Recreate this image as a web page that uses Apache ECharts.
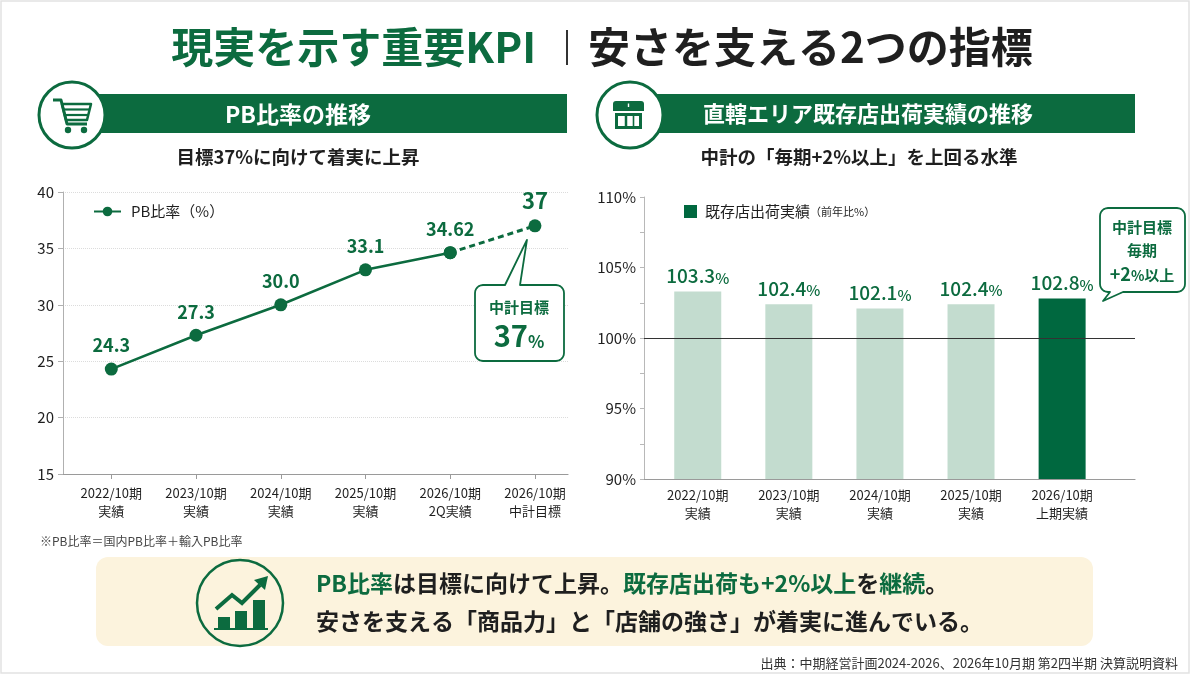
<!DOCTYPE html>
<html lang="ja">
<head>
<meta charset="utf-8">
<title>現実を示す重要KPI｜安さを支える2つの指標</title>
<script src="https://cdn.jsdelivr.net/npm/echarts@6/dist/echarts.min.js"></script>
<style>
  html, body { margin: 0; padding: 0; background: #fff; }
  #main { width: 1200px; height: 675px; }
</style>
</head>
<body>
<div id="main"></div>
<script>
// PB比率の推移
const pbCategories = ['2022/10期\n実績', '2023/10期\n実績', '2024/10期\n実績', '2025/10期\n実績', '2026/10期\n2Q実績', '2026/10期\n中計目標']
const pbValues = [24.3, 27.3, 30.0, 33.1, 34.62, 37]
const pbLabels = ['24.3', '27.3', '30.0', '33.1', '34.62', '37']
const pbTicks = [15, 20, 25, 30, 35, 40]
const pbActualCount = 5

// 直轄エリア既存店出荷実績（前年比%）
const shopCategories = ['2022/10期\n実績', '2023/10期\n実績', '2024/10期\n実績', '2025/10期\n実績', '2026/10期\n上期実績']
const shopValues = [103.3, 102.4, 102.1, 102.4, 102.8]
const shopTicks = [90, 95, 100, 105, 110]
const shopBase = 100

const GREEN = '#0c6b3f'
const BAR_DARK = '#00683f'
const BAR_LIGHT = '#c3dccf'
const INK = '#1f1f1f'
const CREAM = '#fcf3dd'
const FONT = '"Noto Sans CJK JP", "Noto Sans", sans-serif'

let chart = echarts.init(document.getElementById('main'))

let pbIdx = pbCategories.map((c, i) => i)
let shopIdx = shopCategories.map((c, i) => i)

let option = {
    animation: false,
    textStyle: { fontFamily: FONT },
    grid: [
        { left: 63, top: 192, width: 505, height: 282 },
        { left: 644, top: 197, width: 491, height: 282 }
    ],
    legend: [
        {
            data: ['PB比率（%）'],
            left: 88, top: 199,
            itemWidth: 27, itemHeight: 12,
            textStyle: { fontSize: 15, color: INK, fontFamily: FONT, padding: [0, 0, 0, 5] }
        },
        {
            data: [{ name: '既存店出荷実績', icon: 'rect', itemStyle: { color: BAR_DARK } }],
            left: 679, top: 199,
            itemWidth: 13, itemHeight: 13,
            formatter: name => '{a|' + name + '}{b|（前年比%）}',
            textStyle: {
                fontFamily: FONT, padding: [0, 0, 0, 3],
                rich: {
                    a: { fontSize: 15, color: INK, fontFamily: FONT },
                    b: { fontSize: 11, color: INK, fontFamily: FONT }
                }
            }
        }
    ],
    xAxis: [
        {
            type: 'value', gridIndex: 0,
            min: -0.57, max: 5.39,
            splitLine: { show: false },
            axisLine: { show: true, onZero: false, lineStyle: { color: '#9a9a9a', width: 1.2 } },
            axisTick: { show: true, customValues: pbIdx, length: 5, lineStyle: { color: '#9a9a9a' } },
            axisLabel: {
                customValues: pbIdx,
                formatter: v => pbCategories[Math.round(v)],
                fontSize: 13, lineHeight: 18, color: INK, margin: 10, fontFamily: FONT
            }
        },
        {
            type: 'value', gridIndex: 1,
            min: -0.59, max: 4.8,
            splitLine: { show: false },
            axisLine: { show: true, onZero: false, lineStyle: { color: '#9a9a9a', width: 1.2 } },
            axisTick: { show: false },
            axisLabel: {
                customValues: shopIdx,
                formatter: v => shopCategories[Math.round(v)],
                fontSize: 13, lineHeight: 18, color: INK, margin: 7, fontFamily: FONT
            }
        }
    ],
    yAxis: [
        {
            type: 'value', gridIndex: 0,
            min: pbTicks[0], max: pbTicks[pbTicks.length - 1], interval: 5,
            axisLine: { show: true, onZero: false, lineStyle: { color: '#b0b0b0' } },
            axisTick: { show: true, length: 5, lineStyle: { color: '#b0b0b0' } },
            axisLabel: { fontSize: 15, color: INK, margin: 9, fontFamily: FONT },
            splitLine: { show: true, lineStyle: { color: '#dcdcdc', type: 'dotted' } }
        },
        {
            type: 'value', gridIndex: 1,
            min: shopTicks[0], max: shopTicks[shopTicks.length - 1], interval: 5,
            axisLine: { show: true, onZero: false, lineStyle: { color: '#b8b8b8' } },
            axisTick: { show: true, length: 4, lineStyle: { color: '#b8b8b8' } },
            minorTick: { show: true, splitNumber: 2, length: 4, lineStyle: { color: '#b8b8b8' } },
            axisLabel: { formatter: '{value}%', fontSize: 15, color: INK, margin: 8, fontFamily: FONT },
            splitLine: { show: false }
        }
    ],
    series: [
        {
            name: 'PB比率（%）',
            type: 'line',
            xAxisIndex: 0, yAxisIndex: 0,
            z: 3,
            data: pbValues.slice(0, pbActualCount).map((v, i) => [i, v]),
            symbol: 'circle', symbolSize: 13,
            itemStyle: { color: GREEN },
            lineStyle: { color: GREEN, width: 2.6 },
            label: {
                show: true, position: 'top', distance: 8,
                formatter: p => pbLabels[p.dataIndex],
                fontSize: 18, fontWeight: 'bold', color: GREEN, fontFamily: FONT
            }
        },
        {
            name: 'PB比率 目標',
            type: 'line',
            xAxisIndex: 0, yAxisIndex: 0,
            z: 2,
            data: pbValues.slice(pbActualCount - 1).map((v, i) => ({
                value: [pbActualCount - 1 + i, v],
                label: { show: i > 0 }
            })),
            symbol: 'circle', symbolSize: 13,
            itemStyle: { color: GREEN },
            lineStyle: { color: GREEN, width: 3, type: [6, 4] },
            label: {
                position: 'top', distance: 8,
                formatter: p => pbLabels[pbActualCount - 1 + p.dataIndex],
                fontSize: 22, fontWeight: 'bold', color: GREEN, fontFamily: FONT
            }
        },
        {
            name: '既存店出荷実績',
            type: 'bar',
            xAxisIndex: 1, yAxisIndex: 1,
            barWidth: 47,
            itemStyle: { color: BAR_DARK },
            data: shopValues.map((v, i) => ({
                value: [i, v],
                itemStyle: { color: i === shopValues.length - 1 ? BAR_DARK : BAR_LIGHT }
            })),
            label: {
                show: true, position: 'top', distance: 6,
                formatter: p => '{n|' + p.value[1].toFixed(1) + '}{p|%}',
                rich: {
                    n: { fontSize: 19, fontWeight: 500, color: GREEN, fontFamily: FONT, lineHeight: 20, verticalAlign: 'bottom' },
                    p: { fontSize: 15, fontWeight: 500, color: GREEN, fontFamily: FONT, lineHeight: 17, verticalAlign: 'bottom' }
                }
            },
            markLine: {
                silent: true,
                symbol: 'none',
                label: { show: false },
                lineStyle: { color: '#333', width: 1.2, type: 'solid' },
                data: [{ yAxis: shopBase }]
            }
        }
    ]
}
chart.setOption(option)

// speech bubble outline as polygon points (rounded corners, pointer on top or bottom edge)
function bubble(x, y, w, h, r, edge, a, b, tip) {
    let pts = []
    function arc(cx, cy, from) {
        for (let k = 0; k <= 6; k++) {
            let t = (from + k * 15) * Math.PI / 180
            pts.push([cx + r * Math.cos(t), cy + r * Math.sin(t)])
        }
    }
    let R = x + w, B = y + h
    arc(x + r, y + r, 180)
    if (edge === 'top') { pts.push([a, y], tip, [b, y]) }
    arc(R - r, y + r, 270)
    arc(R - r, B - r, 0)
    if (edge === 'bottom') { pts.push([b, B], tip, [a, B]) }
    arc(x + r, B - r, 90)
    return pts
}

function txt(x, y, text, size, color, align, weight) {
    return {
        type: 'text', x: x, y: y, silent: true,
        style: {
            text: text, fontSize: size, fill: color, fontFamily: FONT,
            fontWeight: weight || 'bold', align: align || 'center', verticalAlign: 'middle'
        }
    }
}

let target = chart.convertToPixel({ gridIndex: 0 }, [pbValues.length - 1, pbValues[pbValues.length - 1]])

let g = []
// slide frame
g.push({ type: 'rect', shape: { x: 1, y: 1, width: 1188, height: 672 }, style: { fill: 'none', stroke: '#e2e2e2', lineWidth: 1.5 }, silent: true })

// title
g.push(txt(536, 47, '現実を示す重要KPI', 42, GREEN, 'right'))
g.push({ type: 'line', shape: { x1: 567, y1: 30, x2: 567, y2: 65 }, style: { stroke: '#333', lineWidth: 2 }, silent: true })
g.push(txt(588, 47, '安さを支える2つの指標', 42, INK, 'left'))

// section headers
g.push({ type: 'rect', shape: { x: 72, y: 94, width: 495, height: 39 }, style: { fill: GREEN }, silent: true })
g.push({ type: 'rect', shape: { x: 630, y: 94, width: 505, height: 39 }, style: { fill: GREEN }, silent: true })
g.push({ type: 'circle', shape: { cx: 72, cy: 115, r: 33 }, style: { fill: '#fff', stroke: GREEN, lineWidth: 3 }, silent: true })
g.push({ type: 'circle', shape: { cx: 630, cy: 115, r: 33 }, style: { fill: '#fff', stroke: GREEN, lineWidth: 3 }, silent: true })
g.push(txt(298, 114, 'PB比率の推移', 23, '#fff'))
g.push(txt(868, 114, '直轄エリア既存店出荷実績の推移', 22, '#fff'))
g.push(txt(298, 157, '目標37%に向けて着実に上昇', 18.5, INK))
g.push(txt(859, 157, '中計の「毎期+2%以上」を上回る水準', 18.5, INK))

// cart icon
g.push({ type: 'polyline', shape: { points: [[53, 100], [61, 100], [67, 124], [87, 124]] }, style: { stroke: GREEN, lineWidth: 3, fill: 'none', lineJoin: 'round' }, silent: true })
g.push({ type: 'polygon', shape: { points: [[62, 104], [91, 104], [87, 120], [66, 120]] }, style: { stroke: GREEN, lineWidth: 2.5, fill: 'none', lineJoin: 'round' }, silent: true })
g.push({ type: 'line', shape: { x1: 63.5, y1: 109.5, x2: 89.5, y2: 109.5 }, style: { stroke: GREEN, lineWidth: 2.2 }, silent: true })
g.push({ type: 'line', shape: { x1: 65, y1: 115, x2: 88.5, y2: 115 }, style: { stroke: GREEN, lineWidth: 2.2 }, silent: true })
g.push({ type: 'circle', shape: { cx: 68, cy: 130, r: 3.2 }, style: { fill: GREEN }, silent: true })
g.push({ type: 'circle', shape: { cx: 84, cy: 130, r: 3.2 }, style: { fill: GREEN }, silent: true })

// store icon
g.push({ type: 'rect', shape: { x: 613, y: 101, width: 31, height: 10, r: [3, 3, 0, 0] }, style: { fill: GREEN }, silent: true })
g.push({ type: 'line', shape: { x1: 628.5, y1: 103.5, x2: 628.5, y2: 107 }, style: { stroke: '#fff', lineWidth: 1.4 }, silent: true })
g.push({ type: 'rect', shape: { x: 616.5, y: 114.5, width: 24, height: 13 }, style: { fill: 'none', stroke: GREEN, lineWidth: 3 }, silent: true })
g.push({ type: 'line', shape: { x1: 626, y1: 114, x2: 626, y2: 128 }, style: { stroke: GREEN, lineWidth: 2.5 }, silent: true })
g.push({ type: 'line', shape: { x1: 633.5, y1: 116, x2: 633.5, y2: 128 }, style: { stroke: GREEN, lineWidth: 1.6 }, silent: true })

// footnote
g.push(txt(40, 541, '※PB比率＝国内PB比率＋輸入PB比率', 12, '#444', 'left', 'normal'))

// left callout
g.push({
    type: 'polygon', silent: true,
    shape: { points: bubble(475, 285, 89, 76, 8, 'top', 505, 520, [target[0] - 8, target[1] + 14]) },
    style: { fill: '#fff', stroke: GREEN, lineWidth: 1.8, lineJoin: 'round' }
})
g.push(txt(519, 307, '中計目標', 15, GREEN))
g.push({
    type: 'text', x: 519, y: 335, silent: true,
    style: {
        text: '{n|37}{p|%}', align: 'center', verticalAlign: 'middle',
        rich: {
            n: { fontSize: 29, fontWeight: 'bold', fill: GREEN, fontFamily: FONT, lineHeight: 30, verticalAlign: 'bottom' },
            p: { fontSize: 17, fontWeight: 'bold', fill: GREEN, fontFamily: FONT, lineHeight: 20, verticalAlign: 'bottom' }
        }
    }
})

// right callout
g.push({
    type: 'polygon', silent: true,
    shape: { points: bubble(1100, 208, 85, 84, 8, 'bottom', 1110, 1123, [1103, 301]) },
    style: { fill: '#fff', stroke: GREEN, lineWidth: 1.8, lineJoin: 'round' }
})
g.push(txt(1142, 227, '中計目標', 15, GREEN))
g.push(txt(1142, 250, '毎期', 15, GREEN))
g.push({
    type: 'text', x: 1142, y: 273, silent: true,
    style: {
        text: '{n|+2}{p|%}{q|以上}', align: 'center', verticalAlign: 'middle',
        rich: {
            n: { fontSize: 18, fontWeight: 'bold', fill: GREEN, fontFamily: FONT, lineHeight: 20, verticalAlign: 'bottom' },
            p: { fontSize: 14, fontWeight: 'bold', fill: GREEN, fontFamily: FONT, lineHeight: 17, verticalAlign: 'bottom' },
            q: { fontSize: 15, fontWeight: 'bold', fill: GREEN, fontFamily: FONT, lineHeight: 18, verticalAlign: 'bottom' }
        }
    }
})

// summary box
g.push({ type: 'rect', shape: { x: 96, y: 557, width: 997, height: 89, r: 12 }, style: { fill: CREAM }, silent: true })
g.push({ type: 'circle', shape: { cx: 240, cy: 603, r: 43 }, style: { fill: CREAM, stroke: GREEN, lineWidth: 2.5 }, silent: true })
g.push({ type: 'rect', shape: { x: 218, y: 617, width: 12, height: 11 }, style: { fill: GREEN }, silent: true })
g.push({ type: 'rect', shape: { x: 235, y: 611, width: 12, height: 17 }, style: { fill: GREEN }, silent: true })
g.push({ type: 'rect', shape: { x: 253, y: 600, width: 12, height: 28 }, style: { fill: GREEN }, silent: true })
g.push({ type: 'line', shape: { x1: 214, y1: 629, x2: 268, y2: 629 }, style: { stroke: GREEN, lineWidth: 2.2 }, silent: true })
g.push({ type: 'polyline', shape: { points: [[216, 609], [232, 595], [242, 603], [260, 585]] }, style: { stroke: GREEN, lineWidth: 4, fill: 'none' }, silent: true })
g.push({ type: 'polygon', shape: { points: [[268, 576], [265, 590], [254, 580]] }, style: { fill: GREEN }, silent: true })

let rich = {
    g: { fontSize: 23, fontWeight: 'bold', fill: GREEN, fontFamily: FONT },
    d: { fontSize: 23, fontWeight: 'bold', fill: INK, fontFamily: FONT }
}
g.push({
    type: 'text', x: 316, y: 583, silent: true,
    style: { text: '{g|PB比率}{d|は目標に向けて上昇。}{g|既存店出荷も+2%以上}{d|を}{g|継続}{d|。}', align: 'left', verticalAlign: 'middle', rich: rich }
})
g.push({
    type: 'text', x: 316, y: 621, silent: true,
    style: { text: '{d|安さを支える「商品力」と「店舗の強さ」が着実に進んでいる。}', align: 'left', verticalAlign: 'middle', rich: rich }
})

// source
g.push(txt(1178, 663, '出典：中期経営計画2024-2026、2026年10月期 第2四半期 決算説明資料', 13, '#333', 'right', 'normal'))

chart.setOption({ graphic: g })
</script>
</body>
</html>
